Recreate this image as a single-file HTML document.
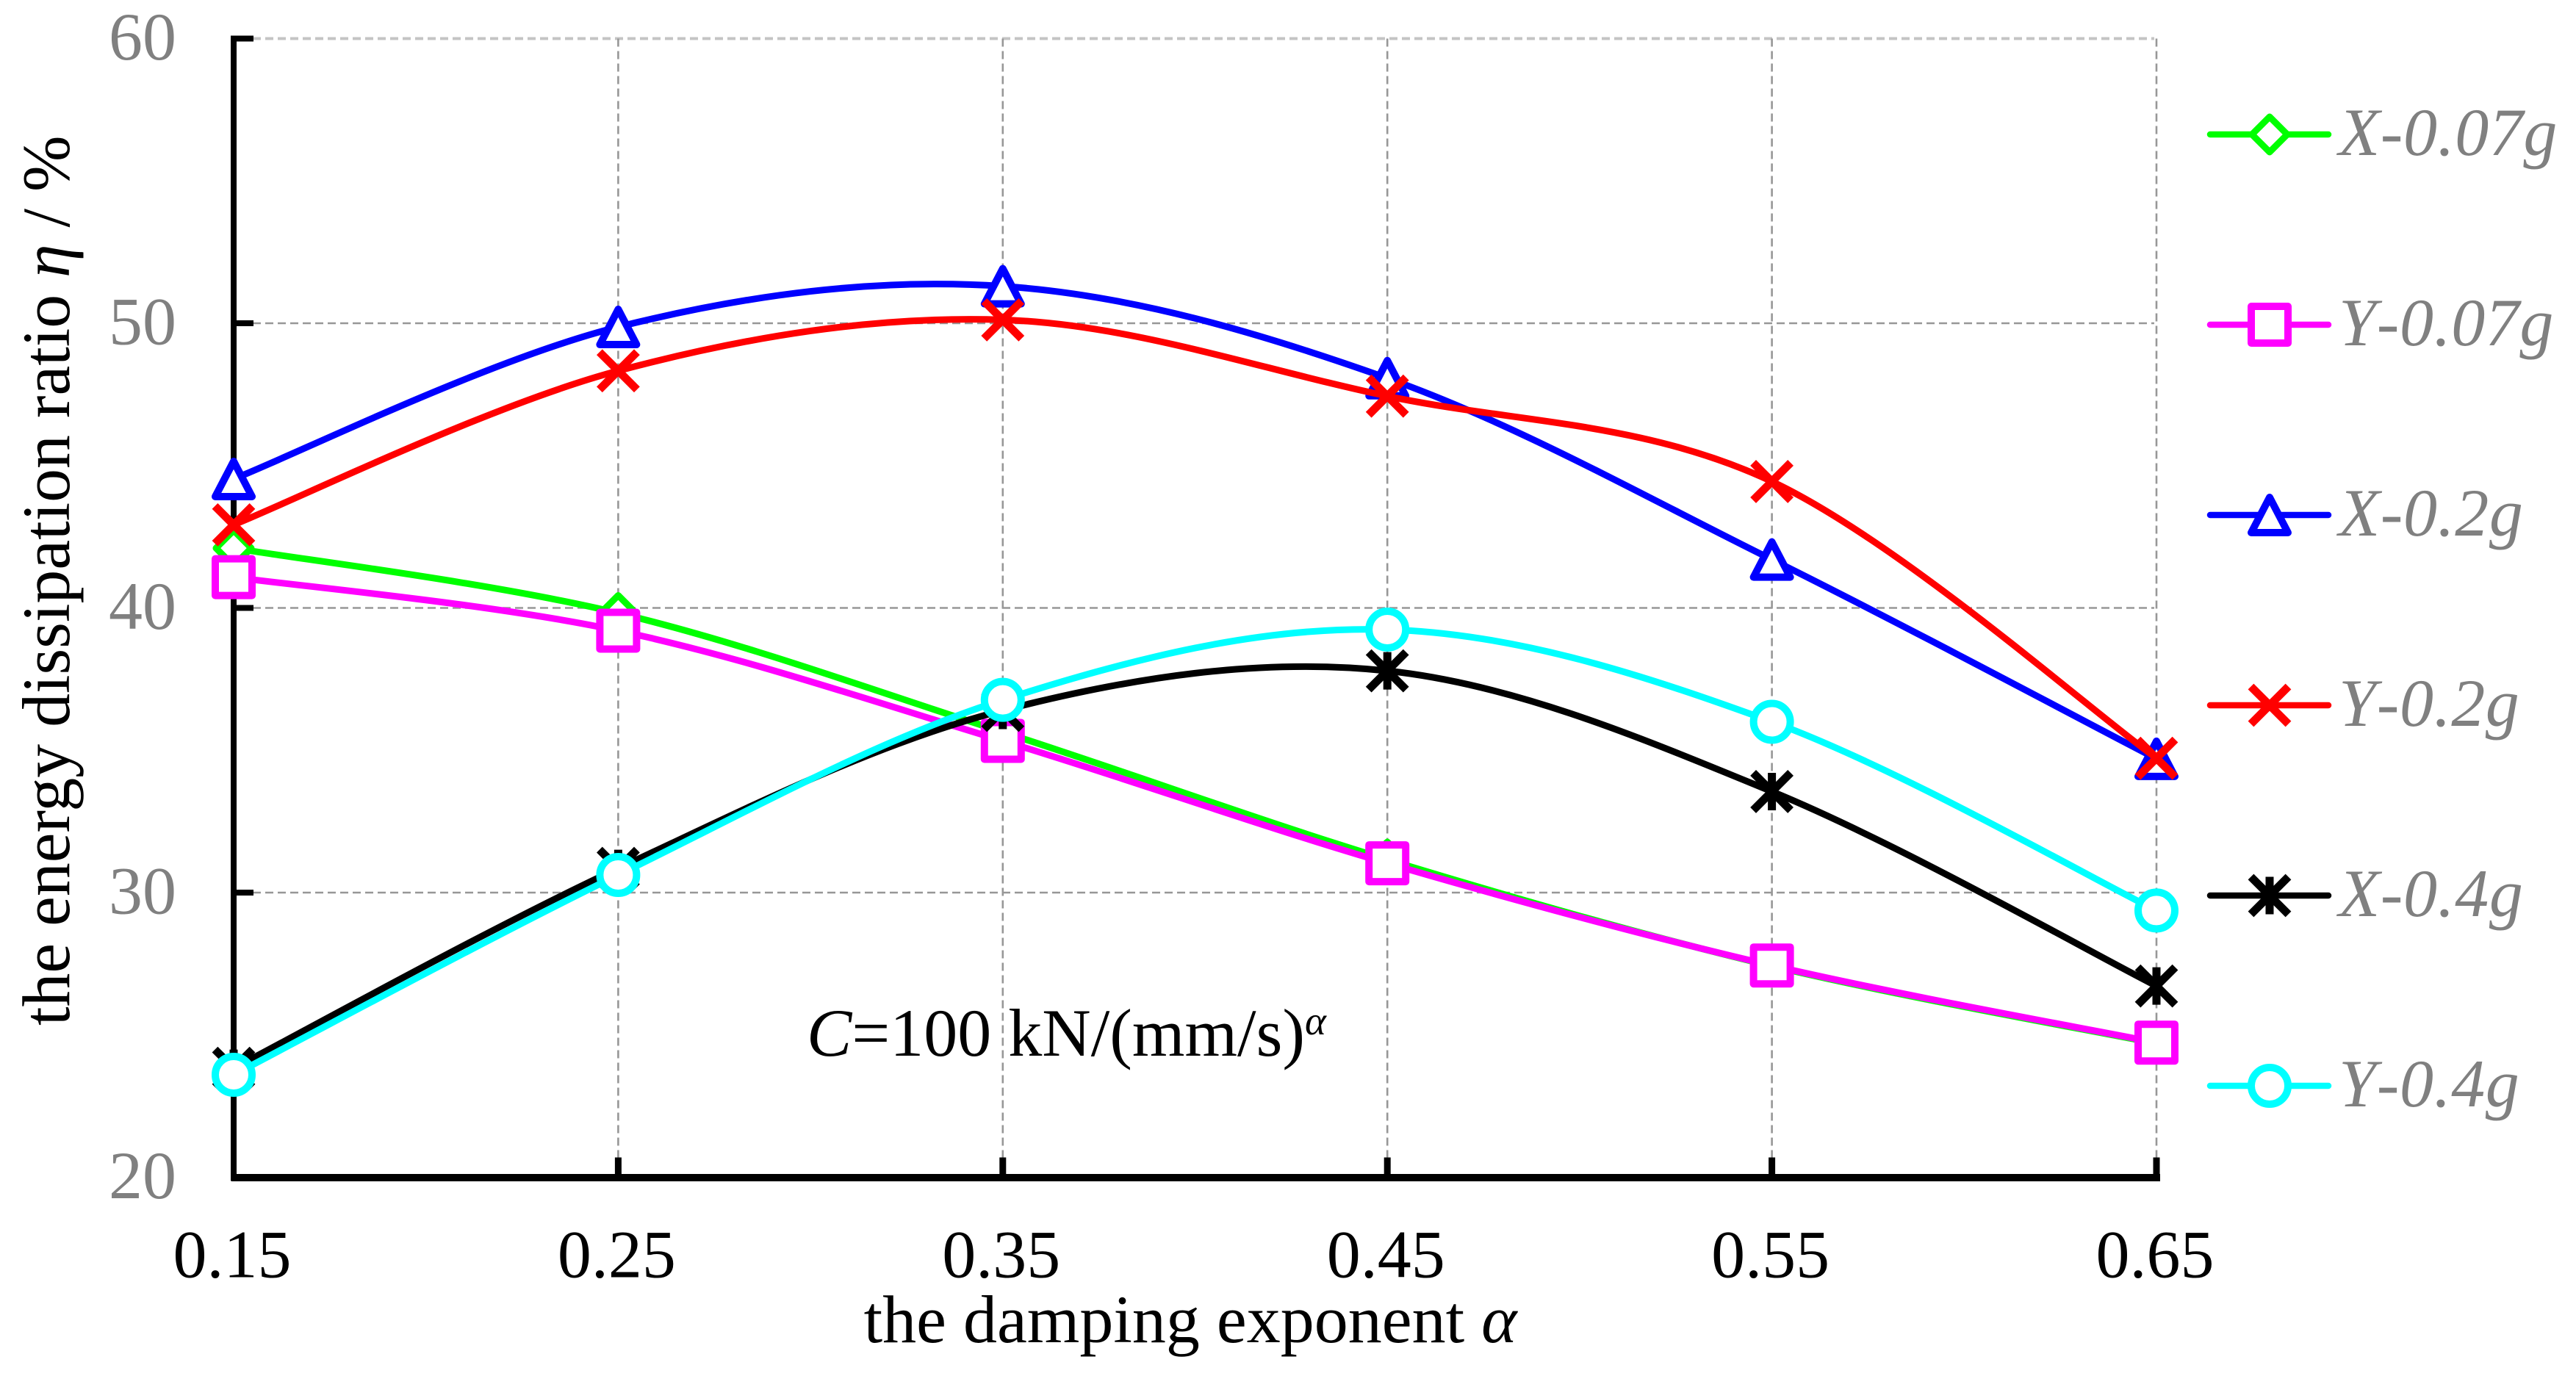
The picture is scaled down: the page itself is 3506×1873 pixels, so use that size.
<!DOCTYPE html>
<html lang="en">
<head>
<meta charset="utf-8">
<title>Energy dissipation ratio vs damping exponent</title>
<style>
html,body{margin:0;padding:0;background:#fff;}
svg{display:block;}
text{font-family:"Liberation Serif","DejaVu Serif",serif;font-size:92px;}
</style>
</head>
<body>
<svg id="chart" xmlns="http://www.w3.org/2000/svg" width="3506" height="1873" viewBox="0 0 3506 1873">
  <rect x="0" y="0" width="3506" height="1873" fill="#ffffff"/>
  <g id="grid"></g>
  <g id="axes"></g>
  <g id="series"></g>
  <g id="legend"></g>
  <text transform="translate(94,1396)  rotate(-90)" style="font-size:91.8px" fill="#000000">the energy dissipation ratio <tspan font-style="italic">η</tspan> / %</text>
  <text x="1620" y="1827" text-anchor="middle" fill="#000000">the damping exponent <tspan font-style="italic">α</tspan></text>
  <text x="1098" y="1437" fill="#000000"><tspan font-style="italic">C</tspan>=100 kN/(mm/s)<tspan font-style="italic" font-size="55" dy="-29">α</tspan></text>
</svg>
<script>
const alphaValues = [0.15, 0.25, 0.35, 0.45, 0.55, 0.65];
const xTickLabels = ['0.15', '0.25', '0.35', '0.45', '0.55', '0.65'];
const yTickValues = [20, 30, 40, 50, 60];
const yTickLabels = ['20', '30', '40', '50', '60'];

const seriesNames = ['X-0.07g', 'Y-0.07g', 'X-0.2g', 'Y-0.2g', 'X-0.4g', 'Y-0.4g'];
const x007Values = [42.1, 39.82, 35.64, 31.16, 27.42, 24.7];
const y007Values = [41.08, 39.2, 35.33, 31.03, 27.44, 24.73];
const x02Values = [44.53, 49.87, 51.3, 48.07, 41.7, 34.7];
const y02Values = [42.92, 48.33, 50.12, 47.44, 44.44, 34.72];
const x04Values = [23.83, 30.85, 36.4, 37.79, 33.55, 26.72];
const y04Values = [23.6, 30.62, 36.77, 39.24, 36.0, 29.37];

const seriesValues = [x007Values, y007Values, x02Values, y02Values, x04Values, y04Values];
const seriesColors = ['#00ff00', '#ff00ff', '#0000ff', '#ff0000', '#000000', '#00ffff'];
const seriesMarkers = ['diamond', 'square', 'triangle', 'cross', 'asterisk', 'circle'];

const NS = 'http://www.w3.org/2000/svg';
const plotLeft = 318, plotRight = 2935, plotTop = 52.5, plotBottom = 1602.5;
const xMin = 0.15, xMax = 0.65, yMin = 20, yMax = 60;
function xScale(a) { return plotLeft + (a - xMin) / (xMax - xMin) * (plotRight - plotLeft); }
function yScale(v) { return plotBottom - (v - yMin) / (yMax - yMin) * (plotBottom - plotTop); }

function make(tag, attrs, parent) {
  const el = document.createElementNS(NS, tag);
  for (const k in attrs) el.setAttribute(k, attrs[k]);
  parent.appendChild(el);
  return el;
}
function slug(s) { return s.toLowerCase().replace(/[^a-z0-9]+/g, '-'); }

const gridG = document.getElementById('grid');
const axesG = document.getElementById('axes');
const seriesG = document.getElementById('series');
const legendG = document.getElementById('legend');

/* grid */
yTickValues.forEach(function (v) {
  if (v === yMin) return;
  const isTop = v === yMax;
  const g = make('line', {x1: plotLeft + 26, x2: plotRight - 3, y1: yScale(v), y2: yScale(v), stroke: isTop ? '#c4c4c4' : '#979797', 'stroke-width': isTop ? 4 : 2.6, 'stroke-dasharray': '11 6'}, gridG);
  
  
});
alphaValues.forEach(function (a, i) {
  if (i === 0) return;
  const g = make('line', {x1: xScale(a), x2: xScale(a), y1: plotTop, y2: plotBottom - 24, stroke: '#979797', 'stroke-width': 2.6, 'stroke-dasharray': '11 6'}, gridG);
  
  
});

/* axes and ticks */
const yAxis = make('line', {x1: plotLeft, x2: plotLeft, y1: plotTop - 4, y2: plotBottom + 5, stroke: '#000', 'stroke-width': 8}, axesG);


const xAxis = make('line', {x1: plotLeft - 3, x2: plotRight + 5, y1: plotBottom + 0.5, y2: plotBottom + 0.5, stroke: '#000', 'stroke-width': 10}, axesG);



yTickValues.forEach(function (v, i) {
  const t = make('line', {x1: plotLeft, x2: plotLeft + 27, y1: yScale(v), y2: yScale(v), stroke: '#000', 'stroke-width': 8}, axesG);
  
  
  const l = make('text', {x: 240, y: yScale(v) + 28.5, 'text-anchor': 'end', fill: '#808080'}, axesG);
  
  
  l.textContent = yTickLabels[i];
});
alphaValues.forEach(function (a, i) {
  if (i > 0) {
    const t = make('line', {x1: xScale(a), x2: xScale(a), y1: plotBottom - 27, y2: plotBottom, stroke: '#000', 'stroke-width': 9}, axesG);
    
    
  }
  const l = make('text', {x: xScale(a) - 2, y: 1738.5, 'text-anchor': 'middle', fill: '#000'}, axesG);
  
  
  l.textContent = xTickLabels[i];
});

/* markers */
function drawMarker(kind, cx, cy, color, parent) {
  const g = make('g', {transform: 'translate(' + cx + ',' + cy + ')', fill: '#ffffff', stroke: color, 'stroke-width': 10, 'stroke-linejoin': 'round'}, parent);
  if (kind === 'diamond') {
    make('polygon', {points: '0,-24 24,0 0,24 -24,0', 'stroke-width': 9}, g);
  } else if (kind === 'square') {
    make('rect', {x: -25, y: -25, width: 50, height: 50}, g);
  } else if (kind === 'triangle') {
    make('polygon', {points: '0,-24 25,24 -25,24'}, g);
  } else if (kind === 'circle') {
    make('circle', {cx: 0, cy: 0, r: 25}, g);
  } else {
    make('line', {x1: -25.5, y1: -25.5, x2: 25.5, y2: 25.5, 'stroke-width': 11}, g);
    make('line', {x1: -25.5, y1: 25.5, x2: 25.5, y2: -25.5, 'stroke-width': 11}, g);
    if (kind === 'asterisk') make('line', {x1: 0, y1: -25.5, x2: 0, y2: 25.5, 'stroke-width': 11}, g);
  }
  return g;
}

/* smoothed line through the points */
function smoothPath(pts) {
  let d = 'M' + pts[0][0] + ' ' + pts[0][1];
  for (let i = 0; i < pts.length - 1; i++) {
    const p0 = pts[Math.max(i - 1, 0)], p1 = pts[i], p2 = pts[i + 1], p3 = pts[Math.min(i + 2, pts.length - 1)];
    const c1x = p1[0] + (p2[0] - p0[0]) / 6, c1y = p1[1] + (p2[1] - p0[1]) / 6;
    const c2x = p2[0] - (p3[0] - p1[0]) / 6, c2y = p2[1] - (p3[1] - p1[1]) / 6;
    d += 'C' + c1x + ' ' + c1y + ' ' + c2x + ' ' + c2y + ' ' + p2[0] + ' ' + p2[1];
  }
  return d;
}

seriesNames.forEach(function (name, s) {
  const group = make('g', {}, seriesG);
  
  
  const pts = alphaValues.map(function (a, i) { return [xScale(a), yScale(seriesValues[s][i])]; });
  const path = make('path', {d: smoothPath(pts), fill: 'none', stroke: seriesColors[s], 'stroke-width': 9}, group);
  
  
  pts.forEach(function (p, i) {
    const m = drawMarker(seriesMarkers[s], p[0], p[1], seriesColors[s], group);
    
    
  });
});

/* legend */
seriesNames.forEach(function (name, s) {
  const rowY = 183 + s * 259;
  const entry = make('g', {}, legendG);
  
  
  make('line', {x1: 3008, x2: 3169, y1: rowY, y2: rowY, stroke: seriesColors[s], 'stroke-width': 8.5, 'stroke-linecap': 'round'}, entry);
  drawMarker(seriesMarkers[s], 3089, rowY, seriesColors[s], entry);
  const label = make('text', {x: 3183, y: rowY + 28, fill: '#808080', 'font-style': 'italic', 'letter-spacing': '0.6', style: 'font-kerning:none'}, entry);
  label.textContent = name;
});
</script>
</body>
</html>
